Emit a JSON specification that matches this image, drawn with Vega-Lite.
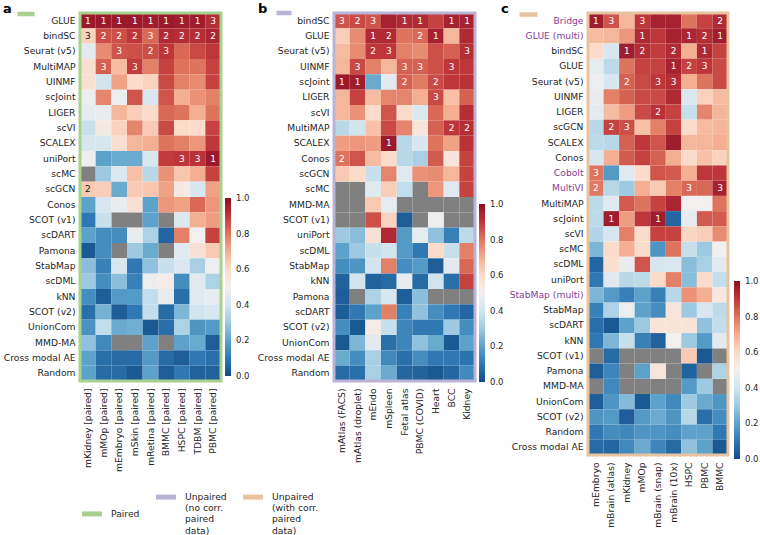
{
  "$schema": "https://vega.github.io/schema/vega-lite/v6.json",
  "padding": {"left": 3, "top": 3, "right": 0, "bottom": 0},
  "bounds": "flush",
  "spacing": 113,
  "hconcat": [
    {
      "title": {"text": "a", "dx": -77, "dy": 17},
      "width": 141,
      "height": 368,
      "data": {"values": [
        {"method":"GLUE","dataset":"mKidney [paired]","score":0.97,"rank":1},{"method":"GLUE","dataset":"mMOp [paired]","score":0.97,"rank":1},{"method":"GLUE","dataset":"mEmbryo [paired]","score":0.97,"rank":1},{"method":"GLUE","dataset":"mSkin [paired]","score":0.97,"rank":1},{"method":"GLUE","dataset":"mRetina [paired]","score":0.96,"rank":1},{"method":"GLUE","dataset":"BMMC [paired]","score":0.97,"rank":1},{"method":"GLUE","dataset":"HSPC [paired]","score":0.96,"rank":1},{"method":"GLUE","dataset":"TDBM [paired]","score":0.96,"rank":1},{"method":"GLUE","dataset":"PBMC [paired]","score":0.92,"rank":3},
        {"method":"bindSC","dataset":"mKidney [paired]","score":0.62,"rank":3},{"method":"bindSC","dataset":"mMOp [paired]","score":0.86,"rank":2},{"method":"bindSC","dataset":"mEmbryo [paired]","score":0.86,"rank":2},{"method":"bindSC","dataset":"mSkin [paired]","score":0.9,"rank":2},{"method":"bindSC","dataset":"mRetina [paired]","score":0.82,"rank":3},{"method":"bindSC","dataset":"BMMC [paired]","score":0.93,"rank":2},{"method":"bindSC","dataset":"HSPC [paired]","score":0.92,"rank":2},{"method":"bindSC","dataset":"TDBM [paired]","score":0.92,"rank":2},{"method":"bindSC","dataset":"PBMC [paired]","score":0.94,"rank":2},
        {"method":"Seurat (v5)","dataset":"mKidney [paired]","score":0.45},{"method":"Seurat (v5)","dataset":"mMOp [paired]","score":0.76},{"method":"Seurat (v5)","dataset":"mEmbryo [paired]","score":0.85,"rank":3},{"method":"Seurat (v5)","dataset":"mSkin [paired]","score":0.86},{"method":"Seurat (v5)","dataset":"mRetina [paired]","score":0.86,"rank":2},{"method":"Seurat (v5)","dataset":"BMMC [paired]","score":0.9,"rank":3},{"method":"Seurat (v5)","dataset":"HSPC [paired]","score":0.82},{"method":"Seurat (v5)","dataset":"TDBM [paired]","score":0.87},{"method":"Seurat (v5)","dataset":"PBMC [paired]","score":0.9},
        {"method":"MultiMAP","dataset":"mKidney [paired]","score":0.58},{"method":"MultiMAP","dataset":"mMOp [paired]","score":0.83,"rank":3},{"method":"MultiMAP","dataset":"mEmbryo [paired]","score":0.67},{"method":"MultiMAP","dataset":"mSkin [paired]","score":0.89,"rank":3},{"method":"MultiMAP","dataset":"mRetina [paired]","score":0.78},{"method":"MultiMAP","dataset":"BMMC [paired]","score":0.88},{"method":"MultiMAP","dataset":"HSPC [paired]","score":0.8},{"method":"MultiMAP","dataset":"TDBM [paired]","score":0.8},{"method":"MultiMAP","dataset":"PBMC [paired]","score":0.88},
        {"method":"UINMF","dataset":"mKidney [paired]","score":0.58},{"method":"UINMF","dataset":"mMOp [paired]","score":0.4},{"method":"UINMF","dataset":"mEmbryo [paired]","score":0.72},{"method":"UINMF","dataset":"mSkin [paired]","score":0.6},{"method":"UINMF","dataset":"mRetina [paired]","score":0.62},{"method":"UINMF","dataset":"BMMC [paired]","score":0.87},{"method":"UINMF","dataset":"HSPC [paired]","score":0.78},{"method":"UINMF","dataset":"TDBM [paired]","score":0.76},{"method":"UINMF","dataset":"PBMC [paired]","score":0.88},
        {"method":"scJoint","dataset":"mKidney [paired]","score":0.48},{"method":"scJoint","dataset":"mMOp [paired]","score":0.77},{"method":"scJoint","dataset":"mEmbryo [paired]","score":0.48},{"method":"scJoint","dataset":"mSkin [paired]","score":0.85},{"method":"scJoint","dataset":"mRetina [paired]","score":0.42},{"method":"scJoint","dataset":"BMMC [paired]","score":0.85},{"method":"scJoint","dataset":"HSPC [paired]","score":0.7},{"method":"scJoint","dataset":"TDBM [paired]","score":0.75},{"method":"scJoint","dataset":"PBMC [paired]","score":0.78},
        {"method":"LIGER","dataset":"mKidney [paired]","score":0.46},{"method":"LIGER","dataset":"mMOp [paired]","score":0.47},{"method":"LIGER","dataset":"mEmbryo [paired]","score":0.68},{"method":"LIGER","dataset":"mSkin [paired]","score":0.63},{"method":"LIGER","dataset":"mRetina [paired]","score":0.6},{"method":"LIGER","dataset":"BMMC [paired]","score":0.82},{"method":"LIGER","dataset":"HSPC [paired]","score":0.8},{"method":"LIGER","dataset":"TDBM [paired]","score":0.7},{"method":"LIGER","dataset":"PBMC [paired]","score":0.8},
        {"method":"scVI","dataset":"mKidney [paired]","score":0.38},{"method":"scVI","dataset":"mMOp [paired]","score":0.53},{"method":"scVI","dataset":"mEmbryo [paired]","score":0.62},{"method":"scVI","dataset":"mSkin [paired]","score":0.77},{"method":"scVI","dataset":"mRetina [paired]","score":0.64},{"method":"scVI","dataset":"BMMC [paired]","score":0.87},{"method":"scVI","dataset":"HSPC [paired]","score":0.6},{"method":"scVI","dataset":"TDBM [paired]","score":0.6},{"method":"scVI","dataset":"PBMC [paired]","score":0.88},
        {"method":"SCALEX","dataset":"mKidney [paired]","score":0.42},{"method":"SCALEX","dataset":"mMOp [paired]","score":0.42},{"method":"SCALEX","dataset":"mEmbryo [paired]","score":0.58},{"method":"SCALEX","dataset":"mSkin [paired]","score":0.68},{"method":"SCALEX","dataset":"mRetina [paired]","score":0.7},{"method":"SCALEX","dataset":"BMMC [paired]","score":0.8},{"method":"SCALEX","dataset":"HSPC [paired]","score":0.78},{"method":"SCALEX","dataset":"TDBM [paired]","score":0.74},{"method":"SCALEX","dataset":"PBMC [paired]","score":0.9},
        {"method":"uniPort","dataset":"mKidney [paired]","score":0.49},{"method":"uniPort","dataset":"mMOp [paired]","score":0.2},{"method":"uniPort","dataset":"mEmbryo [paired]","score":0.22},{"method":"uniPort","dataset":"mSkin [paired]","score":0.22},{"method":"uniPort","dataset":"mRetina [paired]","score":0.42},{"method":"uniPort","dataset":"BMMC [paired]","score":0.89},{"method":"uniPort","dataset":"HSPC [paired]","score":0.9,"rank":3},{"method":"uniPort","dataset":"TDBM [paired]","score":0.91,"rank":3},{"method":"uniPort","dataset":"PBMC [paired]","score":0.97,"rank":1},
        {"method":"scMC","dataset":"mKidney [paired]","score":null},{"method":"scMC","dataset":"mMOp [paired]","score":0.3},{"method":"scMC","dataset":"mEmbryo [paired]","score":0.43},{"method":"scMC","dataset":"mSkin [paired]","score":0.66},{"method":"scMC","dataset":"mRetina [paired]","score":0.35},{"method":"scMC","dataset":"BMMC [paired]","score":0.75},{"method":"scMC","dataset":"HSPC [paired]","score":0.65},{"method":"scMC","dataset":"TDBM [paired]","score":0.7},{"method":"scMC","dataset":"PBMC [paired]","score":0.88},
        {"method":"scGCN","dataset":"mKidney [paired]","score":0.64,"rank":2},{"method":"scGCN","dataset":"mMOp [paired]","score":0.63},{"method":"scGCN","dataset":"mEmbryo [paired]","score":0.22},{"method":"scGCN","dataset":"mSkin [paired]","score":0.64},{"method":"scGCN","dataset":"mRetina [paired]","score":0.65},{"method":"scGCN","dataset":"BMMC [paired]","score":0.72},{"method":"scGCN","dataset":"HSPC [paired]","score":0.53},{"method":"scGCN","dataset":"TDBM [paired]","score":0.42},{"method":"scGCN","dataset":"PBMC [paired]","score":0.72},
        {"method":"Conos","dataset":"mKidney [paired]","score":0.2},{"method":"Conos","dataset":"mMOp [paired]","score":0.42},{"method":"Conos","dataset":"mEmbryo [paired]","score":0.47},{"method":"Conos","dataset":"mSkin [paired]","score":0.57},{"method":"Conos","dataset":"mRetina [paired]","score":0.2},{"method":"Conos","dataset":"BMMC [paired]","score":0.74},{"method":"Conos","dataset":"HSPC [paired]","score":0.72},{"method":"Conos","dataset":"TDBM [paired]","score":0.82},{"method":"Conos","dataset":"PBMC [paired]","score":0.74},
        {"method":"SCOT (v1)","dataset":"mKidney [paired]","score":0.1},{"method":"SCOT (v1)","dataset":"mMOp [paired]","score":0.38},{"method":"SCOT (v1)","dataset":"mEmbryo [paired]","score":null},{"method":"SCOT (v1)","dataset":"mSkin [paired]","score":null},{"method":"SCOT (v1)","dataset":"mRetina [paired]","score":0.2},{"method":"SCOT (v1)","dataset":"BMMC [paired]","score":null},{"method":"SCOT (v1)","dataset":"HSPC [paired]","score":0.43},{"method":"SCOT (v1)","dataset":"TDBM [paired]","score":0.7},{"method":"SCOT (v1)","dataset":"PBMC [paired]","score":0.73},
        {"method":"scDART","dataset":"mKidney [paired]","score":0.2},{"method":"scDART","dataset":"mMOp [paired]","score":0.15},{"method":"scDART","dataset":"mEmbryo [paired]","score":0.15},{"method":"scDART","dataset":"mSkin [paired]","score":0.47},{"method":"scDART","dataset":"mRetina [paired]","score":0.33},{"method":"scDART","dataset":"BMMC [paired]","score":0.06},{"method":"scDART","dataset":"HSPC [paired]","score":0.78},{"method":"scDART","dataset":"TDBM [paired]","score":0.5},{"method":"scDART","dataset":"PBMC [paired]","score":0.88},
        {"method":"Pamona","dataset":"mKidney [paired]","score":0.03},{"method":"Pamona","dataset":"mMOp [paired]","score":0.15},{"method":"Pamona","dataset":"mEmbryo [paired]","score":null},{"method":"Pamona","dataset":"mSkin [paired]","score":0.3},{"method":"Pamona","dataset":"mRetina [paired]","score":0.22},{"method":"Pamona","dataset":"BMMC [paired]","score":null},{"method":"Pamona","dataset":"HSPC [paired]","score":0.44},{"method":"Pamona","dataset":"TDBM [paired]","score":0.57},{"method":"Pamona","dataset":"PBMC [paired]","score":0.64},
        {"method":"StabMap","dataset":"mKidney [paired]","score":0.27},{"method":"StabMap","dataset":"mMOp [paired]","score":0.12},{"method":"StabMap","dataset":"mEmbryo [paired]","score":0.42},{"method":"StabMap","dataset":"mSkin [paired]","score":0.1},{"method":"StabMap","dataset":"mRetina [paired]","score":0.28},{"method":"StabMap","dataset":"BMMC [paired]","score":0.38},{"method":"StabMap","dataset":"HSPC [paired]","score":0.43},{"method":"StabMap","dataset":"TDBM [paired]","score":0.32},{"method":"StabMap","dataset":"PBMC [paired]","score":0.49},
        {"method":"scDML","dataset":"mKidney [paired]","score":0.3},{"method":"scDML","dataset":"mMOp [paired]","score":0.15},{"method":"scDML","dataset":"mEmbryo [paired]","score":0.27},{"method":"scDML","dataset":"mSkin [paired]","score":0.12},{"method":"scDML","dataset":"mRetina [paired]","score":0.48},{"method":"scDML","dataset":"BMMC [paired]","score":0.52},{"method":"scDML","dataset":"HSPC [paired]","score":0.15},{"method":"scDML","dataset":"TDBM [paired]","score":0.45},{"method":"scDML","dataset":"PBMC [paired]","score":0.33},
        {"method":"kNN","dataset":"mKidney [paired]","score":0.15},{"method":"kNN","dataset":"mMOp [paired]","score":0.04},{"method":"kNN","dataset":"mEmbryo [paired]","score":0.18},{"method":"kNN","dataset":"mSkin [paired]","score":0.18},{"method":"kNN","dataset":"mRetina [paired]","score":0.37},{"method":"kNN","dataset":"BMMC [paired]","score":0.47},{"method":"kNN","dataset":"HSPC [paired]","score":0.08},{"method":"kNN","dataset":"TDBM [paired]","score":0.44},{"method":"kNN","dataset":"PBMC [paired]","score":0.46},
        {"method":"SCOT (v2)","dataset":"mKidney [paired]","score":0.08},{"method":"SCOT (v2)","dataset":"mMOp [paired]","score":0.24},{"method":"SCOT (v2)","dataset":"mEmbryo [paired]","score":0.04},{"method":"SCOT (v2)","dataset":"mSkin [paired]","score":0.1},{"method":"SCOT (v2)","dataset":"mRetina [paired]","score":0.37},{"method":"SCOT (v2)","dataset":"BMMC [paired]","score":0.07},{"method":"SCOT (v2)","dataset":"HSPC [paired]","score":0.25},{"method":"SCOT (v2)","dataset":"TDBM [paired]","score":0.4},{"method":"SCOT (v2)","dataset":"PBMC [paired]","score":0.42},
        {"method":"UnionCom","dataset":"mKidney [paired]","score":0.16},{"method":"UnionCom","dataset":"mMOp [paired]","score":0.37},{"method":"UnionCom","dataset":"mEmbryo [paired]","score":0.22},{"method":"UnionCom","dataset":"mSkin [paired]","score":0.23},{"method":"UnionCom","dataset":"mRetina [paired]","score":0.03},{"method":"UnionCom","dataset":"BMMC [paired]","score":0.08},{"method":"UnionCom","dataset":"HSPC [paired]","score":0.33},{"method":"UnionCom","dataset":"TDBM [paired]","score":0.17},{"method":"UnionCom","dataset":"PBMC [paired]","score":0.18},
        {"method":"MMD-MA","dataset":"mKidney [paired]","score":0.28},{"method":"MMD-MA","dataset":"mMOp [paired]","score":0.14},{"method":"MMD-MA","dataset":"mEmbryo [paired]","score":null},{"method":"MMD-MA","dataset":"mSkin [paired]","score":null},{"method":"MMD-MA","dataset":"mRetina [paired]","score":0.2},{"method":"MMD-MA","dataset":"BMMC [paired]","score":null},{"method":"MMD-MA","dataset":"HSPC [paired]","score":0.2},{"method":"MMD-MA","dataset":"TDBM [paired]","score":0.22},{"method":"MMD-MA","dataset":"PBMC [paired]","score":0.04},
        {"method":"Cross modal AE","dataset":"mKidney [paired]","score":0.2},{"method":"Cross modal AE","dataset":"mMOp [paired]","score":0.08},{"method":"Cross modal AE","dataset":"mEmbryo [paired]","score":0.07},{"method":"Cross modal AE","dataset":"mSkin [paired]","score":0.07},{"method":"Cross modal AE","dataset":"mRetina [paired]","score":0.18},{"method":"Cross modal AE","dataset":"BMMC [paired]","score":0.07},{"method":"Cross modal AE","dataset":"HSPC [paired]","score":0.04},{"method":"Cross modal AE","dataset":"TDBM [paired]","score":0.1},{"method":"Cross modal AE","dataset":"PBMC [paired]","score":0.08},
        {"method":"Random","dataset":"mKidney [paired]","score":0.2},{"method":"Random","dataset":"mMOp [paired]","score":0.07},{"method":"Random","dataset":"mEmbryo [paired]","score":0.07},{"method":"Random","dataset":"mSkin [paired]","score":0.03},{"method":"Random","dataset":"mRetina [paired]","score":0.2},{"method":"Random","dataset":"BMMC [paired]","score":0.04},{"method":"Random","dataset":"HSPC [paired]","score":0.1},{"method":"Random","dataset":"TDBM [paired]","score":0.05},{"method":"Random","dataset":"PBMC [paired]","score":0.05}
      ]},
      "layer": [
        {
          "transform": [{"filter": "!isValid(datum.score)"}],
          "mark": {"type": "rect", "color": "#808080"},
          "encoding": {
            "x": {"field": "dataset", "type": "nominal"},
            "y": {"field": "method", "type": "nominal"}
          }
        },
        {
          "mark": "rect",
          "encoding": {
            "x": {"field": "dataset", "type": "nominal", "title": null, "scale": {"domain": ["mKidney [paired]","mMOp [paired]","mEmbryo [paired]","mSkin [paired]","mRetina [paired]","BMMC [paired]","HSPC [paired]","TDBM [paired]","PBMC [paired]"]}},
            "y": {"field": "method", "type": "nominal", "title": null, "scale": {"domain": ["GLUE","bindSC","Seurat (v5)","MultiMAP","UINMF","scJoint","LIGER","scVI","SCALEX","uniPort","scMC","scGCN","Conos","SCOT (v1)","scDART","Pamona","StabMap","scDML","kNN","SCOT (v2)","UnionCom","MMD-MA","Cross modal AE","Random"]}},
            "color": {
              "field": "score", "type": "quantitative",
              "scale": {"domain": [0, 1], "scheme": "redblue", "reverse": true},
              "legend": {"orient": "none", "legendX": 145, "legendY": 185, "direction": "vertical", "gradientLength": 178, "gradientThickness": 6, "title": null, "values": [0, 0.2, 0.4, 0.6, 0.8, 1], "format": ".1f", "labelFontSize": 8.5, "labelOffset": 5, "labelOverlap": false, "labelBaseline": "middle", "padding": 0,
                "encode": {"labels": {"update": {"baseline": {"value": "middle"}}}}}
            }
          }
        },
        {
          "transform": [{"filter": "isValid(datum.rank)"}],
          "mark": {"type": "text", "fontSize": 9, "baseline": "middle"},
          "encoding": {
            "x": {"field": "dataset", "type": "nominal"},
            "y": {"field": "method", "type": "nominal"},
            "text": {"field": "rank", "type": "nominal"},
            "color": {"condition": {"test": "datum.score > 0.72", "value": "#ffffff"}, "value": "#1a1a1a"}
          }
        },
        {
          "data": {"values": [{"group": "Paired"}]},
          "mark": {"type": "rect", "filled": false, "strokeWidth": 3},
          "encoding": {
            "stroke": {"field": "group", "type": "nominal", "scale": {"domain": ["Paired"], "range": ["#a9d18e"]},
              "legend": {"orient": "none", "legendX": -65, "legendY": -10, "title": null, "symbolType": "stroke", "symbolSize": 289, "symbolStrokeWidth": 4.5, "labelExpr": "''", "padding": 0}}
          }
        },
        {
          "data": {"values": [{"group": "Paired"}]},
          "mark": {"type": "square", "opacity": 0, "size": 1},
          "encoding": {
            "fill": {"field": "group", "type": "nominal",
              "scale": {"domain": ["Paired", "Unpaired (no corr. paired data)", "Unpaired (with corr. paired data)"], "range": ["#a9d18e", "#bab3d5", "#e9c39f"]},
              "legend": {"orient": "none", "legendX": 2, "legendY": 474, "direction": "horizontal", "title": null, "symbolType": "M-1,-0.25H1V0.25H-1Z", "symbolSize": 400, "symbolOpacity": 1, "symbolStrokeWidth": 0, "labelFontSize": 9.2, "labelOffset": 9, "columnPadding": 16, "padding": 0,
                "labelExpr": "split(replace(replace(replace(datum.label, ' (', '|('), ' paired', '|paired'), ' data', '|data'), '|')"}}
          }
        }
      ]
    },
    {
      "title": {"text": "b", "dx": -76, "dy": 17},
      "width": 141,
      "height": 368,
      "data": {"values": [
        {"method":"bindSC","dataset":"mAtlas (FACS)","score":0.85,"rank":3},{"method":"bindSC","dataset":"mAtlas (droplet)","score":0.87,"rank":2},{"method":"bindSC","dataset":"mEndo","score":0.85,"rank":3},{"method":"bindSC","dataset":"mSpleen","score":0.95},{"method":"bindSC","dataset":"Fetal atlas","score":0.93,"rank":1},{"method":"bindSC","dataset":"PBMC (COVID)","score":0.93,"rank":1},{"method":"bindSC","dataset":"Heart","score":0.88},{"method":"bindSC","dataset":"BCC","score":0.95,"rank":1},{"method":"bindSC","dataset":"Kidney","score":0.95,"rank":1},
        {"method":"GLUE","dataset":"mAtlas (FACS)","score":0.63},{"method":"GLUE","dataset":"mAtlas (droplet)","score":0.76},{"method":"GLUE","dataset":"mEndo","score":0.93,"rank":1},{"method":"GLUE","dataset":"mSpleen","score":0.93,"rank":2},{"method":"GLUE","dataset":"Fetal atlas","score":0.8},{"method":"GLUE","dataset":"PBMC (COVID)","score":0.82,"rank":2},{"method":"GLUE","dataset":"Heart","score":0.95,"rank":1},{"method":"GLUE","dataset":"BCC","score":0.68},{"method":"GLUE","dataset":"Kidney","score":0.93},
        {"method":"Seurat (v5)","dataset":"mAtlas (FACS)","score":0.67},{"method":"Seurat (v5)","dataset":"mAtlas (droplet)","score":0.76},{"method":"Seurat (v5)","dataset":"mEndo","score":0.9,"rank":2},{"method":"Seurat (v5)","dataset":"mSpleen","score":0.9,"rank":3},{"method":"Seurat (v5)","dataset":"Fetal atlas","score":0.78},{"method":"Seurat (v5)","dataset":"PBMC (COVID)","score":0.76},{"method":"Seurat (v5)","dataset":"Heart","score":0.86},{"method":"Seurat (v5)","dataset":"BCC","score":0.83},{"method":"Seurat (v5)","dataset":"Kidney","score":0.92,"rank":3},
        {"method":"UINMF","dataset":"mAtlas (FACS)","score":0.68},{"method":"UINMF","dataset":"mAtlas (droplet)","score":0.87,"rank":3},{"method":"UINMF","dataset":"mEndo","score":0.78},{"method":"UINMF","dataset":"mSpleen","score":0.68},{"method":"UINMF","dataset":"Fetal atlas","score":0.83,"rank":3},{"method":"UINMF","dataset":"PBMC (COVID)","score":0.83,"rank":3},{"method":"UINMF","dataset":"Heart","score":0.86},{"method":"UINMF","dataset":"BCC","score":0.9,"rank":3},{"method":"UINMF","dataset":"Kidney","score":0.9},
        {"method":"scJoint","dataset":"mAtlas (FACS)","score":0.97,"rank":1},{"method":"scJoint","dataset":"mAtlas (droplet)","score":0.96,"rank":1},{"method":"scJoint","dataset":"mEndo","score":0.22},{"method":"scJoint","dataset":"mSpleen","score":0.45},{"method":"scJoint","dataset":"Fetal atlas","score":0.83,"rank":2},{"method":"scJoint","dataset":"PBMC (COVID)","score":0.79},{"method":"scJoint","dataset":"Heart","score":0.87,"rank":2},{"method":"scJoint","dataset":"BCC","score":0.9},{"method":"scJoint","dataset":"Kidney","score":0.91},
        {"method":"LIGER","dataset":"mAtlas (FACS)","score":0.68},{"method":"LIGER","dataset":"mAtlas (droplet)","score":0.88},{"method":"LIGER","dataset":"mEndo","score":0.67},{"method":"LIGER","dataset":"mSpleen","score":0.77},{"method":"LIGER","dataset":"Fetal atlas","score":0.77},{"method":"LIGER","dataset":"PBMC (COVID)","score":0.7},{"method":"LIGER","dataset":"Heart","score":0.87,"rank":3},{"method":"LIGER","dataset":"BCC","score":0.66},{"method":"LIGER","dataset":"Kidney","score":0.83},
        {"method":"scVI","dataset":"mAtlas (FACS)","score":0.68},{"method":"scVI","dataset":"mAtlas (droplet)","score":0.75},{"method":"scVI","dataset":"mEndo","score":0.6},{"method":"scVI","dataset":"mSpleen","score":0.85},{"method":"scVI","dataset":"Fetal atlas","score":0.6},{"method":"scVI","dataset":"PBMC (COVID)","score":0.43},{"method":"scVI","dataset":"Heart","score":0.82},{"method":"scVI","dataset":"BCC","score":0.7},{"method":"scVI","dataset":"Kidney","score":0.92},
        {"method":"MultiMAP","dataset":"mAtlas (FACS)","score":0.35},{"method":"MultiMAP","dataset":"mAtlas (droplet)","score":0.4},{"method":"MultiMAP","dataset":"mEndo","score":0.66},{"method":"MultiMAP","dataset":"mSpleen","score":0.87},{"method":"MultiMAP","dataset":"Fetal atlas","score":0.77},{"method":"MultiMAP","dataset":"PBMC (COVID)","score":0.55},{"method":"MultiMAP","dataset":"Heart","score":0.83},{"method":"MultiMAP","dataset":"BCC","score":0.9,"rank":2},{"method":"MultiMAP","dataset":"Kidney","score":0.92,"rank":2},
        {"method":"SCALEX","dataset":"mAtlas (FACS)","score":0.73},{"method":"SCALEX","dataset":"mAtlas (droplet)","score":0.74},{"method":"SCALEX","dataset":"mEndo","score":0.73},{"method":"SCALEX","dataset":"mSpleen","score":0.97,"rank":1},{"method":"SCALEX","dataset":"Fetal atlas","score":0.35},{"method":"SCALEX","dataset":"PBMC (COVID)","score":0.42},{"method":"SCALEX","dataset":"Heart","score":0.8},{"method":"SCALEX","dataset":"BCC","score":0.72},{"method":"SCALEX","dataset":"Kidney","score":0.91},
        {"method":"Conos","dataset":"mAtlas (FACS)","score":0.8,"rank":2},{"method":"Conos","dataset":"mAtlas (droplet)","score":0.85},{"method":"Conos","dataset":"mEndo","score":0.67},{"method":"Conos","dataset":"mSpleen","score":0.6},{"method":"Conos","dataset":"Fetal atlas","score":0.35},{"method":"Conos","dataset":"PBMC (COVID)","score":0.32},{"method":"Conos","dataset":"Heart","score":0.84},{"method":"Conos","dataset":"BCC","score":0.55},{"method":"Conos","dataset":"Kidney","score":0.88},
        {"method":"scGCN","dataset":"mAtlas (FACS)","score":0.64},{"method":"scGCN","dataset":"mAtlas (droplet)","score":0.6},{"method":"scGCN","dataset":"mEndo","score":0.38},{"method":"scGCN","dataset":"mSpleen","score":0.77},{"method":"scGCN","dataset":"Fetal atlas","score":0.44},{"method":"scGCN","dataset":"PBMC (COVID)","score":0.75},{"method":"scGCN","dataset":"Heart","score":0.76},{"method":"scGCN","dataset":"BCC","score":0.68},{"method":"scGCN","dataset":"Kidney","score":0.88},
        {"method":"scMC","dataset":"mAtlas (FACS)","score":null},{"method":"scMC","dataset":"mAtlas (droplet)","score":null},{"method":"scMC","dataset":"mEndo","score":0.44},{"method":"scMC","dataset":"mSpleen","score":0.63},{"method":"scMC","dataset":"Fetal atlas","score":0.37},{"method":"scMC","dataset":"PBMC (COVID)","score":null},{"method":"scMC","dataset":"Heart","score":0.74},{"method":"scMC","dataset":"BCC","score":0.44},{"method":"scMC","dataset":"Kidney","score":0.88},
        {"method":"MMD-MA","dataset":"mAtlas (FACS)","score":null},{"method":"MMD-MA","dataset":"mAtlas (droplet)","score":null},{"method":"MMD-MA","dataset":"mEndo","score":0.64},{"method":"MMD-MA","dataset":"mSpleen","score":0.46},{"method":"MMD-MA","dataset":"Fetal atlas","score":null},{"method":"MMD-MA","dataset":"PBMC (COVID)","score":null},{"method":"MMD-MA","dataset":"Heart","score":null},{"method":"MMD-MA","dataset":"BCC","score":null},{"method":"MMD-MA","dataset":"Kidney","score":null},
        {"method":"SCOT (v1)","dataset":"mAtlas (FACS)","score":null},{"method":"SCOT (v1)","dataset":"mAtlas (droplet)","score":null},{"method":"SCOT (v1)","dataset":"mEndo","score":0.86},{"method":"SCOT (v1)","dataset":"mSpleen","score":0.62},{"method":"SCOT (v1)","dataset":"Fetal atlas","score":0.04},{"method":"SCOT (v1)","dataset":"PBMC (COVID)","score":null},{"method":"SCOT (v1)","dataset":"Heart","score":0.49},{"method":"SCOT (v1)","dataset":"BCC","score":null},{"method":"SCOT (v1)","dataset":"Kidney","score":null},
        {"method":"uniPort","dataset":"mAtlas (FACS)","score":0.3},{"method":"uniPort","dataset":"mAtlas (droplet)","score":0.27},{"method":"uniPort","dataset":"mEndo","score":0.57},{"method":"uniPort","dataset":"mSpleen","score":0.93},{"method":"uniPort","dataset":"Fetal atlas","score":0.18},{"method":"uniPort","dataset":"PBMC (COVID)","score":0.46},{"method":"uniPort","dataset":"Heart","score":0.28},{"method":"uniPort","dataset":"BCC","score":0.12},{"method":"uniPort","dataset":"Kidney","score":0.36},
        {"method":"scDML","dataset":"mAtlas (FACS)","score":0.2},{"method":"scDML","dataset":"mAtlas (droplet)","score":0.3},{"method":"scDML","dataset":"mEndo","score":0.38},{"method":"scDML","dataset":"mSpleen","score":0.4},{"method":"scDML","dataset":"Fetal atlas","score":0.18},{"method":"scDML","dataset":"PBMC (COVID)","score":0.1},{"method":"scDML","dataset":"Heart","score":0.6},{"method":"scDML","dataset":"BCC","score":0.38},{"method":"scDML","dataset":"Kidney","score":0.78},
        {"method":"StabMap","dataset":"mAtlas (FACS)","score":0.15},{"method":"StabMap","dataset":"mAtlas (droplet)","score":0.17},{"method":"StabMap","dataset":"mEndo","score":0.4},{"method":"StabMap","dataset":"mSpleen","score":0.78},{"method":"StabMap","dataset":"Fetal atlas","score":0.15},{"method":"StabMap","dataset":"PBMC (COVID)","score":0.18},{"method":"StabMap","dataset":"Heart","score":0.04},{"method":"StabMap","dataset":"BCC","score":0.45},{"method":"StabMap","dataset":"Kidney","score":0.82},
        {"method":"kNN","dataset":"mAtlas (FACS)","score":0.05},{"method":"kNN","dataset":"mAtlas (droplet)","score":0.4},{"method":"kNN","dataset":"mEndo","score":0.05},{"method":"kNN","dataset":"mSpleen","score":0.07},{"method":"kNN","dataset":"Fetal atlas","score":0.47},{"method":"kNN","dataset":"PBMC (COVID)","score":0.07},{"method":"kNN","dataset":"Heart","score":0.4},{"method":"kNN","dataset":"BCC","score":0.08},{"method":"kNN","dataset":"Kidney","score":0.88},
        {"method":"Pamona","dataset":"mAtlas (FACS)","score":0.04},{"method":"Pamona","dataset":"mAtlas (droplet)","score":null},{"method":"Pamona","dataset":"mEndo","score":0.33},{"method":"Pamona","dataset":"mSpleen","score":0.42},{"method":"Pamona","dataset":"Fetal atlas","score":0.04},{"method":"Pamona","dataset":"PBMC (COVID)","score":0.27},{"method":"Pamona","dataset":"Heart","score":null},{"method":"Pamona","dataset":"BCC","score":null},{"method":"Pamona","dataset":"Kidney","score":null},
        {"method":"scDART","dataset":"mAtlas (FACS)","score":0.04},{"method":"scDART","dataset":"mAtlas (droplet)","score":0.1},{"method":"scDART","dataset":"mEndo","score":0.2},{"method":"scDART","dataset":"mSpleen","score":0.78},{"method":"scDART","dataset":"Fetal atlas","score":0.12},{"method":"scDART","dataset":"PBMC (COVID)","score":0.28},{"method":"scDART","dataset":"Heart","score":0.15},{"method":"scDART","dataset":"BCC","score":0.1},{"method":"scDART","dataset":"Kidney","score":0.06},
        {"method":"SCOT (v2)","dataset":"mAtlas (FACS)","score":0.15},{"method":"SCOT (v2)","dataset":"mAtlas (droplet)","score":0.03},{"method":"SCOT (v2)","dataset":"mEndo","score":0.52},{"method":"SCOT (v2)","dataset":"mSpleen","score":0.38},{"method":"SCOT (v2)","dataset":"Fetal atlas","score":0.13},{"method":"SCOT (v2)","dataset":"PBMC (COVID)","score":0.1},{"method":"SCOT (v2)","dataset":"Heart","score":0.1},{"method":"SCOT (v2)","dataset":"BCC","score":0.3},{"method":"SCOT (v2)","dataset":"Kidney","score":0.15},
        {"method":"UnionCom","dataset":"mAtlas (FACS)","score":0.03},{"method":"UnionCom","dataset":"mAtlas (droplet)","score":0.25},{"method":"UnionCom","dataset":"mEndo","score":0.45},{"method":"UnionCom","dataset":"mSpleen","score":0.08},{"method":"UnionCom","dataset":"Fetal atlas","score":0.13},{"method":"UnionCom","dataset":"PBMC (COVID)","score":0.28},{"method":"UnionCom","dataset":"Heart","score":0.22},{"method":"UnionCom","dataset":"BCC","score":0.03},{"method":"UnionCom","dataset":"Kidney","score":0.2},
        {"method":"Cross modal AE","dataset":"mAtlas (FACS)","score":0.22},{"method":"Cross modal AE","dataset":"mAtlas (droplet)","score":0.15},{"method":"Cross modal AE","dataset":"mEndo","score":0.32},{"method":"Cross modal AE","dataset":"mSpleen","score":0.14},{"method":"Cross modal AE","dataset":"Fetal atlas","score":0.08},{"method":"Cross modal AE","dataset":"PBMC (COVID)","score":0.15},{"method":"Cross modal AE","dataset":"Heart","score":0.1},{"method":"Cross modal AE","dataset":"BCC","score":0.1},{"method":"Cross modal AE","dataset":"Kidney","score":0.09},
        {"method":"Random","dataset":"mAtlas (FACS)","score":0.07},{"method":"Random","dataset":"mAtlas (droplet)","score":0.08},{"method":"Random","dataset":"mEndo","score":0.32},{"method":"Random","dataset":"mSpleen","score":0.22},{"method":"Random","dataset":"Fetal atlas","score":0.06},{"method":"Random","dataset":"PBMC (COVID)","score":0.05},{"method":"Random","dataset":"Heart","score":0.03},{"method":"Random","dataset":"BCC","score":0.06},{"method":"Random","dataset":"Kidney","score":0.14}
      ]},
      "layer": [
        {
          "transform": [{"filter": "!isValid(datum.score)"}],
          "mark": {"type": "rect", "color": "#808080"},
          "encoding": {
            "x": {"field": "dataset", "type": "nominal"},
            "y": {"field": "method", "type": "nominal"}
          }
        },
        {
          "mark": "rect",
          "encoding": {
            "x": {"field": "dataset", "type": "nominal", "title": null, "scale": {"domain": ["mAtlas (FACS)","mAtlas (droplet)","mEndo","mSpleen","Fetal atlas","PBMC (COVID)","Heart","BCC","Kidney"]}},
            "y": {"field": "method", "type": "nominal", "title": null, "scale": {"domain": ["bindSC","GLUE","Seurat (v5)","UINMF","scJoint","LIGER","scVI","MultiMAP","SCALEX","Conos","scGCN","scMC","MMD-MA","SCOT (v1)","uniPort","scDML","StabMap","kNN","Pamona","scDART","SCOT (v2)","UnionCom","Cross modal AE","Random"]}},
            "color": {
              "field": "score", "type": "quantitative",
              "scale": {"domain": [0, 1], "scheme": "redblue", "reverse": true},
              "legend": {"orient": "none", "legendX": 145, "legendY": 191, "direction": "vertical", "gradientLength": 178, "gradientThickness": 6, "title": null, "values": [0, 0.2, 0.4, 0.6, 0.8, 1], "format": ".1f", "labelFontSize": 8.5, "labelOffset": 5, "labelOverlap": false, "labelBaseline": "middle", "padding": 0,
                "encode": {"labels": {"update": {"baseline": {"value": "middle"}}}}}
            }
          }
        },
        {
          "transform": [{"filter": "isValid(datum.rank)"}],
          "mark": {"type": "text", "fontSize": 9, "baseline": "middle"},
          "encoding": {
            "x": {"field": "dataset", "type": "nominal"},
            "y": {"field": "method", "type": "nominal"},
            "text": {"field": "rank", "type": "nominal"},
            "color": {"condition": {"test": "datum.score > 0.72", "value": "#ffffff"}, "value": "#1a1a1a"}
          }
        },
        {
          "data": {"values": [{"group": "Unpaired (no corr. paired data)"}]},
          "mark": {"type": "rect", "filled": false, "strokeWidth": 3},
          "encoding": {
            "stroke": {"field": "group", "type": "nominal", "scale": {"domain": ["Unpaired (no corr. paired data)"], "range": ["#bab3d5"]},
              "legend": {"orient": "none", "legendX": -60, "legendY": -10, "title": null, "symbolType": "stroke", "symbolSize": 225, "symbolStrokeWidth": 4.5, "labelExpr": "''", "padding": 0}}
          }
        },
        {
          "data": {"values": [{"group": "Unpaired (no corr. paired data)"}]},
          "mark": {"type": "square", "opacity": 0, "size": 1},
          "encoding": {
            "fill": {"field": "group", "type": "nominal",
              "scale": {"domain": ["Paired", "Unpaired (no corr. paired data)", "Unpaired (with corr. paired data)"], "range": ["#a9d18e", "#bab3d5", "#e9c39f"]},
              "legend": {"orient": "none", "legendX": 2, "legendY": 474, "direction": "horizontal", "title": null, "symbolType": "M-1,-0.25H1V0.25H-1Z", "symbolSize": 400, "symbolOpacity": 1, "symbolStrokeWidth": 0, "labelFontSize": 9.2, "labelOffset": 9, "columnPadding": 16, "padding": 0,
                "labelExpr": "split(replace(replace(replace(datum.label, ' (', '|('), ' paired', '|paired'), ' data', '|data'), '|')"}}
          }
        }
      ]
    },
    {
      "title": {"text": "c", "dx": -87, "dy": 17},
      "width": 140,
      "height": 442,
      "data": {"values": [
        {"method":"Bridge","dataset":"mEmbryo","score":0.96,"rank":1},{"method":"Bridge","dataset":"mBrain (atlas)","score":0.85,"rank":3},{"method":"Bridge","dataset":"mKidney","score":0.68},{"method":"Bridge","dataset":"mMOp","score":0.9,"rank":3},{"method":"Bridge","dataset":"mBrain (snap)","score":0.95},{"method":"Bridge","dataset":"mBrain (10x)","score":0.95},{"method":"Bridge","dataset":"HSPC","score":0.8},{"method":"Bridge","dataset":"PBMC","score":0.88},{"method":"Bridge","dataset":"BMMC","score":0.93,"rank":2},
        {"method":"GLUE (multi)","dataset":"mEmbryo","score":0.67},{"method":"GLUE (multi)","dataset":"mBrain (atlas)","score":0.68},{"method":"GLUE (multi)","dataset":"mKidney","score":0.74},{"method":"GLUE (multi)","dataset":"mMOp","score":0.93,"rank":1},{"method":"GLUE (multi)","dataset":"mBrain (snap)","score":0.9},{"method":"GLUE (multi)","dataset":"mBrain (10x)","score":0.95},{"method":"GLUE (multi)","dataset":"HSPC","score":0.94,"rank":1},{"method":"GLUE (multi)","dataset":"PBMC","score":0.92,"rank":2},{"method":"GLUE (multi)","dataset":"BMMC","score":0.96,"rank":1},
        {"method":"bindSC","dataset":"mEmbryo","score":0.6},{"method":"bindSC","dataset":"mBrain (atlas)","score":0.42},{"method":"bindSC","dataset":"mKidney","score":0.96,"rank":1},{"method":"bindSC","dataset":"mMOp","score":0.92,"rank":2},{"method":"bindSC","dataset":"mBrain (snap)","score":0.89},{"method":"bindSC","dataset":"mBrain (10x)","score":0.93,"rank":2},{"method":"bindSC","dataset":"HSPC","score":0.7},{"method":"bindSC","dataset":"PBMC","score":0.93,"rank":1},{"method":"bindSC","dataset":"BMMC","score":0.88},
        {"method":"GLUE","dataset":"mEmbryo","score":0.46},{"method":"GLUE","dataset":"mBrain (atlas)","score":0.36},{"method":"GLUE","dataset":"mKidney","score":0.8},{"method":"GLUE","dataset":"mMOp","score":0.88},{"method":"GLUE","dataset":"mBrain (snap)","score":0.88},{"method":"GLUE","dataset":"mBrain (10x)","score":0.95,"rank":1},{"method":"GLUE","dataset":"HSPC","score":0.88,"rank":2},{"method":"GLUE","dataset":"PBMC","score":0.9,"rank":3},{"method":"GLUE","dataset":"BMMC","score":0.87},
        {"method":"Seurat (v5)","dataset":"mEmbryo","score":0.48},{"method":"Seurat (v5)","dataset":"mBrain (atlas)","score":0.42},{"method":"Seurat (v5)","dataset":"mKidney","score":0.83,"rank":2},{"method":"Seurat (v5)","dataset":"mMOp","score":0.87},{"method":"Seurat (v5)","dataset":"mBrain (snap)","score":0.9,"rank":3},{"method":"Seurat (v5)","dataset":"mBrain (10x)","score":0.92,"rank":3},{"method":"Seurat (v5)","dataset":"HSPC","score":0.7},{"method":"Seurat (v5)","dataset":"PBMC","score":0.8},{"method":"Seurat (v5)","dataset":"BMMC","score":0.87},
        {"method":"UINMF","dataset":"mEmbryo","score":0.47},{"method":"UINMF","dataset":"mBrain (atlas)","score":0.78},{"method":"UINMF","dataset":"mKidney","score":0.83},{"method":"UINMF","dataset":"mMOp","score":0.87},{"method":"UINMF","dataset":"mBrain (snap)","score":0.87},{"method":"UINMF","dataset":"mBrain (10x)","score":0.93},{"method":"UINMF","dataset":"HSPC","score":0.43},{"method":"UINMF","dataset":"PBMC","score":0.62},{"method":"UINMF","dataset":"BMMC","score":0.67},
        {"method":"LIGER","dataset":"mEmbryo","score":0.46},{"method":"LIGER","dataset":"mBrain (atlas)","score":0.67},{"method":"LIGER","dataset":"mKidney","score":0.73},{"method":"LIGER","dataset":"mMOp","score":0.87},{"method":"LIGER","dataset":"mBrain (snap)","score":0.91,"rank":2},{"method":"LIGER","dataset":"mBrain (10x)","score":0.88},{"method":"LIGER","dataset":"HSPC","score":0.38},{"method":"LIGER","dataset":"PBMC","score":0.77},{"method":"LIGER","dataset":"BMMC","score":0.68},
        {"method":"scGCN","dataset":"mEmbryo","score":0.35},{"method":"scGCN","dataset":"mBrain (atlas)","score":0.88,"rank":2},{"method":"scGCN","dataset":"mKidney","score":0.86,"rank":3},{"method":"scGCN","dataset":"mMOp","score":0.66},{"method":"scGCN","dataset":"mBrain (snap)","score":0.78},{"method":"scGCN","dataset":"mBrain (10x)","score":0.88},{"method":"scGCN","dataset":"HSPC","score":0.6},{"method":"scGCN","dataset":"PBMC","score":0.67},{"method":"scGCN","dataset":"BMMC","score":0.68},
        {"method":"SCALEX","dataset":"mEmbryo","score":0.36},{"method":"SCALEX","dataset":"mBrain (atlas)","score":0.35},{"method":"SCALEX","dataset":"mKidney","score":0.83},{"method":"SCALEX","dataset":"mMOp","score":0.9},{"method":"SCALEX","dataset":"mBrain (snap)","score":0.85},{"method":"SCALEX","dataset":"mBrain (10x)","score":0.96},{"method":"SCALEX","dataset":"HSPC","score":0.68},{"method":"SCALEX","dataset":"PBMC","score":0.68},{"method":"SCALEX","dataset":"BMMC","score":0.7},
        {"method":"Conos","dataset":"mEmbryo","score":0.42},{"method":"Conos","dataset":"mBrain (atlas)","score":0.7},{"method":"Conos","dataset":"mKidney","score":0.84},{"method":"Conos","dataset":"mMOp","score":0.88},{"method":"Conos","dataset":"mBrain (snap)","score":0.83},{"method":"Conos","dataset":"mBrain (10x)","score":0.7},{"method":"Conos","dataset":"HSPC","score":0.6},{"method":"Conos","dataset":"PBMC","score":0.66},{"method":"Conos","dataset":"BMMC","score":0.62},
        {"method":"Cobolt","dataset":"mEmbryo","score":0.8,"rank":3},{"method":"Cobolt","dataset":"mBrain (atlas)","score":0.18},{"method":"Cobolt","dataset":"mKidney","score":0.44},{"method":"Cobolt","dataset":"mMOp","score":0.6},{"method":"Cobolt","dataset":"mBrain (snap)","score":0.85},{"method":"Cobolt","dataset":"mBrain (10x)","score":0.84},{"method":"Cobolt","dataset":"HSPC","score":0.7},{"method":"Cobolt","dataset":"PBMC","score":0.9},{"method":"Cobolt","dataset":"BMMC","score":0.9},
        {"method":"MultiVI","dataset":"mEmbryo","score":0.79,"rank":2},{"method":"MultiVI","dataset":"mBrain (atlas)","score":0.35},{"method":"MultiVI","dataset":"mKidney","score":0.3},{"method":"MultiVI","dataset":"mMOp","score":0.7},{"method":"MultiVI","dataset":"mBrain (snap)","score":0.64},{"method":"MultiVI","dataset":"mBrain (10x)","score":0.78},{"method":"MultiVI","dataset":"HSPC","score":0.82,"rank":3},{"method":"MultiVI","dataset":"PBMC","score":0.82},{"method":"MultiVI","dataset":"BMMC","score":0.95,"rank":3},
        {"method":"MultiMAP","dataset":"mEmbryo","score":0.36},{"method":"MultiMAP","dataset":"mBrain (atlas)","score":0.45},{"method":"MultiMAP","dataset":"mKidney","score":0.84},{"method":"MultiMAP","dataset":"mMOp","score":0.8},{"method":"MultiMAP","dataset":"mBrain (snap)","score":0.88},{"method":"MultiMAP","dataset":"mBrain (10x)","score":0.94},{"method":"MultiMAP","dataset":"HSPC","score":0.5},{"method":"MultiMAP","dataset":"PBMC","score":0.5},{"method":"MultiMAP","dataset":"BMMC","score":0.8},
        {"method":"scJoint","dataset":"mEmbryo","score":0.36},{"method":"scJoint","dataset":"mBrain (atlas)","score":0.96,"rank":1},{"method":"scJoint","dataset":"mKidney","score":0.73},{"method":"scJoint","dataset":"mMOp","score":0.9},{"method":"scJoint","dataset":"mBrain (snap)","score":0.96,"rank":1},{"method":"scJoint","dataset":"mBrain (10x)","score":0.06},{"method":"scJoint","dataset":"HSPC","score":0.46},{"method":"scJoint","dataset":"PBMC","score":0.84},{"method":"scJoint","dataset":"BMMC","score":0.84},
        {"method":"scVI","dataset":"mEmbryo","score":0.34},{"method":"scVI","dataset":"mBrain (atlas)","score":0.42},{"method":"scVI","dataset":"mKidney","score":0.78},{"method":"scVI","dataset":"mMOp","score":0.6},{"method":"scVI","dataset":"mBrain (snap)","score":0.88},{"method":"scVI","dataset":"mBrain (10x)","score":0.88},{"method":"scVI","dataset":"HSPC","score":0.61},{"method":"scVI","dataset":"PBMC","score":0.63},{"method":"scVI","dataset":"BMMC","score":0.76},
        {"method":"scMC","dataset":"mEmbryo","score":0.25},{"method":"scMC","dataset":"mBrain (atlas)","score":0.6},{"method":"scMC","dataset":"mKidney","score":0.7},{"method":"scMC","dataset":"mMOp","score":0.6},{"method":"scMC","dataset":"mBrain (snap)","score":0.17},{"method":"scMC","dataset":"mBrain (10x)","score":0.8},{"method":"scMC","dataset":"HSPC","score":0.38},{"method":"scMC","dataset":"PBMC","score":0.3},{"method":"scMC","dataset":"BMMC","score":0.5},
        {"method":"scDML","dataset":"mEmbryo","score":0.06},{"method":"scDML","dataset":"mBrain (atlas)","score":0.58},{"method":"scDML","dataset":"mKidney","score":0.47},{"method":"scDML","dataset":"mMOp","score":0.85},{"method":"scDML","dataset":"mBrain (snap)","score":0.42},{"method":"scDML","dataset":"mBrain (10x)","score":0.43},{"method":"scDML","dataset":"HSPC","score":0.27},{"method":"scDML","dataset":"PBMC","score":0.32},{"method":"scDML","dataset":"BMMC","score":0.45},
        {"method":"uniPort","dataset":"mEmbryo","score":0.1},{"method":"uniPort","dataset":"mBrain (atlas)","score":0.44},{"method":"uniPort","dataset":"mKidney","score":0.35},{"method":"uniPort","dataset":"mMOp","score":0.36},{"method":"uniPort","dataset":"mBrain (snap)","score":0.6},{"method":"uniPort","dataset":"mBrain (10x)","score":0.78},{"method":"uniPort","dataset":"HSPC","score":0.27},{"method":"uniPort","dataset":"PBMC","score":0.6},{"method":"uniPort","dataset":"BMMC","score":0.37},
        {"method":"StabMap (multi)","dataset":"mEmbryo","score":0.25},{"method":"StabMap (multi)","dataset":"mBrain (atlas)","score":0.18},{"method":"StabMap (multi)","dataset":"mKidney","score":0.12},{"method":"StabMap (multi)","dataset":"mMOp","score":0.2},{"method":"StabMap (multi)","dataset":"mBrain (snap)","score":0.12},{"method":"StabMap (multi)","dataset":"mBrain (10x)","score":0.35},{"method":"StabMap (multi)","dataset":"HSPC","score":0.75},{"method":"StabMap (multi)","dataset":"PBMC","score":0.7},{"method":"StabMap (multi)","dataset":"BMMC","score":0.54},
        {"method":"StabMap","dataset":"mEmbryo","score":0.12},{"method":"StabMap","dataset":"mBrain (atlas)","score":0.33},{"method":"StabMap","dataset":"mKidney","score":0.48},{"method":"StabMap","dataset":"mMOp","score":0.2},{"method":"StabMap","dataset":"mBrain (snap)","score":0.15},{"method":"StabMap","dataset":"mBrain (10x)","score":0.55},{"method":"StabMap","dataset":"HSPC","score":0.3},{"method":"StabMap","dataset":"PBMC","score":0.42},{"method":"StabMap","dataset":"BMMC","score":0.36},
        {"method":"scDART","dataset":"mEmbryo","score":0.08},{"method":"scDART","dataset":"mBrain (atlas)","score":0.03},{"method":"scDART","dataset":"mKidney","score":0.2},{"method":"scDART","dataset":"mMOp","score":0.3},{"method":"scDART","dataset":"mBrain (snap)","score":0.56},{"method":"scDART","dataset":"mBrain (10x)","score":0.56},{"method":"scDART","dataset":"HSPC","score":0.56},{"method":"scDART","dataset":"PBMC","score":0.28},{"method":"scDART","dataset":"BMMC","score":0.37},
        {"method":"kNN","dataset":"mEmbryo","score":0.1},{"method":"kNN","dataset":"mBrain (atlas)","score":0.25},{"method":"kNN","dataset":"mKidney","score":0.38},{"method":"kNN","dataset":"mMOp","score":0.12},{"method":"kNN","dataset":"mBrain (snap)","score":0.05},{"method":"kNN","dataset":"mBrain (10x)","score":0.5},{"method":"kNN","dataset":"HSPC","score":0.3},{"method":"kNN","dataset":"PBMC","score":0.18},{"method":"kNN","dataset":"BMMC","score":0.45},
        {"method":"SCOT (v1)","dataset":"mEmbryo","score":null},{"method":"SCOT (v1)","dataset":"mBrain (atlas)","score":0.07},{"method":"SCOT (v1)","dataset":"mKidney","score":null},{"method":"SCOT (v1)","dataset":"mMOp","score":null},{"method":"SCOT (v1)","dataset":"mBrain (snap)","score":null},{"method":"SCOT (v1)","dataset":"mBrain (10x)","score":null},{"method":"SCOT (v1)","dataset":"HSPC","score":0.64},{"method":"SCOT (v1)","dataset":"PBMC","score":0.03},{"method":"SCOT (v1)","dataset":"BMMC","score":null},
        {"method":"Pamona","dataset":"mEmbryo","score":0.04},{"method":"Pamona","dataset":"mBrain (atlas)","score":0.13},{"method":"Pamona","dataset":"mKidney","score":null},{"method":"Pamona","dataset":"mMOp","score":0.2},{"method":"Pamona","dataset":"mBrain (snap)","score":0.55},{"method":"Pamona","dataset":"mBrain (10x)","score":null},{"method":"Pamona","dataset":"HSPC","score":0.05},{"method":"Pamona","dataset":"PBMC","score":null},{"method":"Pamona","dataset":"BMMC","score":0.33},
        {"method":"MMD-MA","dataset":"mEmbryo","score":null},{"method":"MMD-MA","dataset":"mBrain (atlas)","score":0.14},{"method":"MMD-MA","dataset":"mKidney","score":null},{"method":"MMD-MA","dataset":"mMOp","score":null},{"method":"MMD-MA","dataset":"mBrain (snap)","score":null},{"method":"MMD-MA","dataset":"mBrain (10x)","score":null},{"method":"MMD-MA","dataset":"HSPC","score":0.18},{"method":"MMD-MA","dataset":"PBMC","score":0.3},{"method":"MMD-MA","dataset":"BMMC","score":null},
        {"method":"UnionCom","dataset":"mEmbryo","score":0.04},{"method":"UnionCom","dataset":"mBrain (atlas)","score":0.17},{"method":"UnionCom","dataset":"mKidney","score":0.26},{"method":"UnionCom","dataset":"mMOp","score":0.03},{"method":"UnionCom","dataset":"mBrain (snap)","score":0.2},{"method":"UnionCom","dataset":"mBrain (10x)","score":0.14},{"method":"UnionCom","dataset":"HSPC","score":0.3},{"method":"UnionCom","dataset":"PBMC","score":0.22},{"method":"UnionCom","dataset":"BMMC","score":0.17},
        {"method":"SCOT (v2)","dataset":"mEmbryo","score":0.17},{"method":"SCOT (v2)","dataset":"mBrain (atlas)","score":0.18},{"method":"SCOT (v2)","dataset":"mKidney","score":0.04},{"method":"SCOT (v2)","dataset":"mMOp","score":0.18},{"method":"SCOT (v2)","dataset":"mBrain (snap)","score":0.22},{"method":"SCOT (v2)","dataset":"mBrain (10x)","score":0.17},{"method":"SCOT (v2)","dataset":"HSPC","score":0.35},{"method":"SCOT (v2)","dataset":"PBMC","score":0.08},{"method":"SCOT (v2)","dataset":"BMMC","score":0.15},
        {"method":"Random","dataset":"mEmbryo","score":0.1},{"method":"Random","dataset":"mBrain (atlas)","score":0.15},{"method":"Random","dataset":"mKidney","score":0.14},{"method":"Random","dataset":"mMOp","score":0.17},{"method":"Random","dataset":"mBrain (snap)","score":0.17},{"method":"Random","dataset":"mBrain (10x)","score":0.15},{"method":"Random","dataset":"HSPC","score":0.2},{"method":"Random","dataset":"PBMC","score":0.2},{"method":"Random","dataset":"BMMC","score":0.1},
        {"method":"Cross modal AE","dataset":"mEmbryo","score":0.07},{"method":"Cross modal AE","dataset":"mBrain (atlas)","score":0.06},{"method":"Cross modal AE","dataset":"mKidney","score":0.14},{"method":"Cross modal AE","dataset":"mMOp","score":0.22},{"method":"Cross modal AE","dataset":"mBrain (snap)","score":0.13},{"method":"Cross modal AE","dataset":"mBrain (10x)","score":0.07},{"method":"Cross modal AE","dataset":"HSPC","score":0.28},{"method":"Cross modal AE","dataset":"PBMC","score":0.2},{"method":"Cross modal AE","dataset":"BMMC","score":0.03}
      ]},
      "layer": [
        {
          "transform": [{"filter": "!isValid(datum.score)"}],
          "mark": {"type": "rect", "color": "#808080"},
          "encoding": {
            "x": {"field": "dataset", "type": "nominal"},
            "y": {"field": "method", "type": "nominal"}
          }
        },
        {
          "mark": "rect",
          "encoding": {
            "x": {"field": "dataset", "type": "nominal", "title": null, "scale": {"domain": ["mEmbryo","mBrain (atlas)","mKidney","mMOp","mBrain (snap)","mBrain (10x)","HSPC","PBMC","BMMC"]}},
            "y": {"field": "method", "type": "nominal", "title": null,
              "scale": {"domain": ["Bridge","GLUE (multi)","bindSC","GLUE","Seurat (v5)","UINMF","LIGER","scGCN","SCALEX","Conos","Cobolt","MultiVI","MultiMAP","scJoint","scVI","scMC","scDML","uniPort","StabMap (multi)","StabMap","scDART","kNN","SCOT (v1)","Pamona","MMD-MA","UnionCom","SCOT (v2)","Random","Cross modal AE"]},
              "axis": {"labelColor": {"condition": {"test": "indexof(['Bridge','GLUE (multi)','Cobolt','MultiVI','StabMap (multi)'], datum.value) >= 0", "value": "#84409b"}, "value": "#262626"}}},
            "color": {
              "field": "score", "type": "quantitative",
              "scale": {"domain": [0, 1], "scheme": "redblue", "reverse": true},
              "legend": {"orient": "none", "legendX": 146, "legendY": 268, "direction": "vertical", "gradientLength": 178, "gradientThickness": 6, "title": null, "values": [0, 0.2, 0.4, 0.6, 0.8, 1], "format": ".1f", "labelFontSize": 8.5, "labelOffset": 5, "labelOverlap": false, "labelBaseline": "middle", "padding": 0,
                "encode": {"labels": {"update": {"baseline": {"value": "middle"}}}}}
            }
          }
        },
        {
          "transform": [{"filter": "isValid(datum.rank)"}],
          "mark": {"type": "text", "fontSize": 9, "baseline": "middle"},
          "encoding": {
            "x": {"field": "dataset", "type": "nominal"},
            "y": {"field": "method", "type": "nominal"},
            "text": {"field": "rank", "type": "nominal"},
            "color": {"condition": {"test": "datum.score > 0.72", "value": "#ffffff"}, "value": "#1a1a1a"}
          }
        },
        {
          "data": {"values": [{"group": "Unpaired (with corr. paired data)"}]},
          "mark": {"type": "rect", "filled": false, "strokeWidth": 3},
          "encoding": {
            "stroke": {"field": "group", "type": "nominal", "scale": {"domain": ["Unpaired (with corr. paired data)"], "range": ["#e9c39f"]},
              "legend": {"orient": "none", "legendX": -71, "legendY": -10, "title": null, "symbolType": "stroke", "symbolSize": 324, "symbolStrokeWidth": 4.5, "labelExpr": "''", "padding": 0}}
          }
        },
        {
          "data": {"values": [{"group": "Unpaired (with corr. paired data)"}]},
          "mark": {"type": "square", "opacity": 0, "size": 1},
          "encoding": {
            "fill": {"field": "group", "type": "nominal",
              "scale": {"domain": ["Paired", "Unpaired (no corr. paired data)", "Unpaired (with corr. paired data)"], "range": ["#a9d18e", "#bab3d5", "#e9c39f"]},
              "legend": {"orient": "none", "legendX": 2, "legendY": 474, "direction": "horizontal", "title": null, "symbolType": "M-1,-0.25H1V0.25H-1Z", "symbolSize": 400, "symbolOpacity": 1, "symbolStrokeWidth": 0, "labelFontSize": 9.2, "labelOffset": 9, "columnPadding": 16, "padding": 0,
                "labelExpr": "split(replace(replace(replace(datum.label, ' (', '|('), ' paired', '|paired'), ' data', '|data'), '|')"}}
          }
        }
      ]
    }
  ],
  "resolve": {
    "scale": {"x": "independent", "y": "independent", "color": "independent", "stroke": "independent", "fill": "shared"},
    "legend": {"color": "independent", "stroke": "independent", "fill": "shared"}
  },
  "config": {
    "font": "DejaVu Sans",
    "view": {"stroke": null},
    "title": {"fontSize": 13, "fontWeight": "bold", "anchor": "start", "frame": "group", "color": "#000000", "offset": 0, "baseline": "alphabetic"},
    "axis": {"labelFontSize": 9.2, "labelColor": "#262626", "domain": false, "ticks": false, "tickSize": 0, "grid": false},
    "axisY": {"labelPadding": 5},
    "axisX": {"labelAngle": 270, "labelPadding": 7},
    "legend": {"labelColor": "#262626", "labelFont": "DejaVu Sans"}
  }
}
